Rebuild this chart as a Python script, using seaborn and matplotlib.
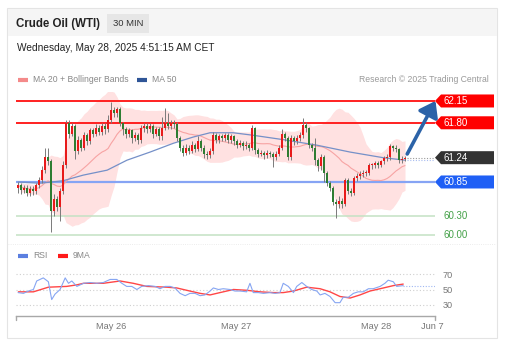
import numpy as np
import pandas as pd
import matplotlib.pyplot as plt
import matplotlib.transforms as mtransforms
from matplotlib.patches import Polygon, Rectangle, FancyArrowPatch
from matplotlib.lines import Line2D
import seaborn as sns

# ---- 30 min candles ----
first_open = 60.75
closes = [60.80, 60.72, 60.76, 60.68, 60.74, 60.70, 60.80, 60.88, 61.05, 61.25,
          61.18, 60.38, 60.58, 60.45, 60.70, 61.12, 61.80, 61.62, 61.75, 61.35,
          61.52, 61.40, 61.60, 61.50, 61.68, 61.62, 61.72, 61.65, 61.75, 61.70,
          61.85, 62.00, 61.95, 62.02, 61.80, 61.70, 61.62, 61.68, 61.55, 61.60,
          61.52, 61.72, 61.75, 61.70, 61.75, 61.62, 61.70, 61.58, 61.72, 61.80,
          61.75, 61.80, 61.78, 61.55, 61.40, 61.32, 61.40, 61.35, 61.45, 61.38,
          61.50, 61.40, 61.30, 61.28, 61.35, 61.60, 61.52, 61.58, 61.55, 61.60,
          61.52, 61.58, 61.50, 61.45, 61.48, 61.42, 61.45, 61.40, 61.72, 61.36,
          61.30, 61.32, 61.28, 61.32, 61.30, 61.25, 61.30, 61.40, 61.62, 61.55,
          61.25, 61.55, 61.50, 61.55, 61.60, 61.76, 61.72, 61.45, 61.40, 61.20,
          61.10, 61.25, 61.00, 60.83, 60.75, 60.53, 60.50, 60.55, 60.50, 60.88,
          60.70, 60.68, 60.91, 60.95, 60.98, 61.00, 61.00, 61.12, 61.12, 61.15,
          61.13, 61.18, 61.23, 61.25, 61.42, 61.40, 61.38, 61.20, 61.22, 61.24]
highs = [60.85, 60.84, 60.80, 60.80, 60.79, 60.78, 60.84, 60.93, 61.10, 61.40,
         61.40, 61.22, 60.65, 60.62, 60.75, 61.18, 61.85, 61.84, 61.80, 61.78,
         61.58, 61.56, 61.65, 61.64, 61.72, 61.72, 61.78, 61.76, 61.80, 61.80,
         61.92, 62.13, 62.05, 62.06, 62.05, 61.82, 61.74, 61.72, 61.70, 61.66,
         61.64, 61.76, 61.80, 61.79, 61.79, 61.78, 61.74, 61.73, 61.90, 62.04,
         61.95, 61.85, 61.84, 61.82, 61.58, 61.44, 61.46, 61.44, 61.50, 61.48,
         61.58, 61.54, 61.44, 61.35, 61.40, 61.66, 61.64, 61.62, 61.62, 61.64,
         61.63, 61.62, 61.60, 61.54, 61.52, 61.50, 61.50, 61.48, 61.76, 61.74,
         61.40, 61.36, 61.35, 61.36, 61.35, 61.33, 61.34, 61.45, 61.70, 61.65,
         61.58, 61.60, 61.58, 61.60, 61.66, 61.87, 61.82, 61.74, 61.48, 61.55,
         61.24, 61.30, 61.28, 61.02, 60.86, 60.78, 60.58, 60.62, 60.60, 60.92,
         60.92, 60.76, 60.95, 60.99, 61.02, 61.04, 61.04, 61.16, 61.16, 61.18,
         61.18, 61.21, 61.26, 61.30, 61.46, 61.45, 61.44, 61.40, 61.26, 61.27]
lows = [60.68, 60.66, 60.67, 60.62, 60.63, 60.64, 60.66, 60.76, 60.84, 61.00,
        61.12, 60.05, 60.30, 60.38, 60.22, 60.66, 61.08, 61.55, 61.58, 61.22,
        61.30, 61.34, 61.36, 61.45, 61.46, 61.57, 61.58, 61.60, 61.60, 61.62,
        61.65, 61.80, 61.90, 61.90, 61.75, 61.60, 61.56, 61.57, 61.48, 61.50,
        61.46, 61.48, 61.66, 61.64, 61.65, 61.56, 61.58, 61.52, 61.53, 61.68,
        61.70, 61.70, 61.72, 61.50, 61.34, 61.26, 61.28, 61.30, 61.31, 61.33,
        61.34, 61.35, 61.24, 61.22, 61.23, 61.30, 61.47, 61.48, 61.50, 61.50,
        61.47, 61.47, 61.45, 61.40, 61.41, 61.37, 61.38, 61.35, 61.36, 61.30,
        61.25, 61.26, 61.22, 61.23, 61.25, 61.09, 61.20, 61.26, 61.36, 61.50,
        61.20, 61.20, 61.45, 61.46, 61.50, 61.55, 61.66, 61.40, 61.34, 61.12,
        61.02, 61.05, 60.85, 60.78, 60.70, 60.48, 60.27, 60.44, 60.43, 60.46,
        60.65, 60.62, 60.64, 60.86, 60.90, 60.93, 60.95, 60.96, 61.06, 61.07,
        61.08, 61.09, 61.14, 61.18, 61.21, 61.35, 61.33, 61.16, 61.16, 61.18]

# MA 50 as drawn on the chart (it carries history from before the window)
ma50_bar = [0, 7.3, 15, 21.7, 29.7, 36.3, 44, 51.7, 58.3, 64, 71.7, 78.3, 88.3,
            99.7, 110.7, 121.7, 129]
ma50_val = [60.85, 60.83, 60.87, 60.96, 61.04, 61.20, 61.33, 61.47, 61.57, 61.64,
            61.64, 61.60, 61.53, 61.44, 61.33, 61.24, 61.20]

# key levels
level_prices = [62.15, 61.80, 60.85, 60.30, 60.00]
level_kinds = ['res', 'res', 'pivot', 'sup', 'sup']
last_price = 61.24
target_bar, target_price = 139.6, 62.19

# RSI panel
rsi_bar = [0, 1.8, 3.4, 5.1, 6.2, 8.4, 10.1, 11.2, 12.3, 14, 15.7, 16.8, 17.9, 19.6,
           21.8, 24, 26.2, 28.4, 30.7, 32.9, 34.6, 36.2, 37.9, 39.6, 41.2, 43.4, 45.7,
           47.3, 49, 50.7, 52.3, 54, 55.7, 57.3, 59, 60.7, 62.3, 64, 65.1, 66.8, 68.4,
           70.7, 72.3, 74, 76.2, 77.3, 78.4, 80.1, 81.8, 84, 85.7, 87.3, 88.4, 90.1,
           91.8, 92.9, 94.6, 96.2, 97.9, 99.6, 100.7, 102.3, 104, 105.7, 107.3, 108.4,
           110.1, 111.8, 113.4, 115.1, 116.8, 118.4, 120.7, 122.3, 123.4, 125.1, 126.2, 128.4]
rsi_val = [46, 45, 48, 50, 61, 65, 60, 37, 44, 50, 65, 58, 61, 54, 58, 59, 58, 59, 63, 63,
           58, 54, 54, 50, 54, 55, 54, 51, 54, 54, 52, 45, 42, 45, 45, 42, 43, 48, 52, 50,
           51, 50, 48, 48, 47, 58, 46, 46, 45, 46, 45, 46, 58, 54, 46, 54, 59, 54, 50, 48,
           43, 45, 41, 33, 33, 40, 40, 45, 47, 47, 51, 51, 54, 58, 62, 60, 54, 55]
ma9_bar = [0.1, 5.1, 10.1, 16.2, 19.6, 21.8, 28.4, 34, 38.4, 42.9, 49.6, 52.9, 57.3, 60.7,
           64, 67.3, 71.8, 76.2, 80.7, 85.1, 88.4, 91.8, 96.2, 100.7, 104, 107.3, 110.7,
           114, 117.3, 121.8, 125.1, 128.4]
ma9_val = [47, 47, 53, 54, 56, 58, 58, 61, 58, 54, 53, 52, 48, 45, 43, 46, 50, 49, 47, 46,
           46, 48, 53, 51, 47, 41, 39, 43, 48, 52, 55, 57]

date_ticks = [31, 72.7, 119.3, 138]
date_labels = ['May 26', 'May 27', 'May 28', 'Jun 7']

sns.set_theme(style='white')
plt.rcParams['font.family'] = ['Liberation Sans', 'DejaVu Sans']

W, H = 511, 354
def fx(px):
    return px / W
def fy(py):
    return 1 - py / H

fig = plt.figure(figsize=(W / 100, H / 100), dpi=100)
fig.patch.set_facecolor('white')

# card + header (kept behind the axes)
fig.add_artist(Rectangle((fx(7), fy(338)), fx(497) - fx(7), fy(8) - fy(338),
                         transform=fig.transFigure, fc='white', ec='#e4e4e4', lw=0.8,
                         zorder=-10))
fig.add_artist(Rectangle((fx(7.5), fy(36)), fx(496.5) - fx(7.5), fy(8.5) - fy(36),
                         transform=fig.transFigure, fc='#f5f5f5', ec='none', zorder=-9))
fig.add_artist(Rectangle((fx(107), fy(33)), fx(149) - fx(107), fy(14) - fy(33),
                         transform=fig.transFigure, fc='#e6e6e6', ec='none', zorder=-8))
fig.text(fx(16), fy(23.5), 'Crude Oil (WTI)', fontsize=8.3, fontweight='bold',
         color='#222222', va='center')
fig.text(fx(128), fy(23.5), '30 MIN', fontsize=6.8, color='#333333', va='center', ha='center')
fig.text(fx(17), fy(48), 'Wednesday, May 28, 2025 4:51:15 AM CET', fontsize=7.3,
         color='#222222', va='center')

# legends
def legend_item(x, y, color, label):
    fig.add_artist(Line2D([fx(x), fx(x + 10)], [fy(y), fy(y)], transform=fig.transFigure,
                          color=color, lw=3, solid_capstyle='butt'))
    fig.text(fx(x + 15), fy(y), label, fontsize=6.2, color='#888888', va='center')

legend_item(18, 79.5, '#f48a8a', 'MA 20 + Bollinger Bands')
legend_item(137, 79.5, '#2f5597', 'MA 50')
fig.text(fx(489), fy(79.5), 'Research \u00a9 2025 Trading Central', fontsize=6.2,
         color='#999999', va='center', ha='right')
legend_item(18, 256, '#5b7fe0', 'RSI')
legend_item(58, 256, '#ff1a1a', '9MA')

# panel separator
fig.add_artist(Line2D([fx(8), fx(496)], [fy(244), fy(244)], transform=fig.transFigure,
                      color='#e6e6e6', lw=0.6, ls=':', zorder=-7))

# ---- price panel ----
ax = fig.add_axes([fx(16), fy(240), fx(435) - fx(16), fy(92) - fy(240)])
ax.set_facecolor('none')
n = len(closes)
idx = np.arange(n)
df = pd.DataFrame({'bar': idx, 'close': closes, 'high': highs, 'low': lows})
df['open'] = [first_open] + closes[:-1]
roll = df['close'].rolling(20, min_periods=1)
df['ma20'] = roll.mean()
sd = roll.std(ddof=0).fillna(0)
df['bb_up'] = df['ma20'] + 2 * sd
df['bb_lo'] = df['ma20'] - 2 * sd

ax.fill_between(df['bar'], df['bb_lo'], df['bb_up'], color='#ffe1e1', lw=0, zorder=1)
sns.lineplot(data=df, x='bar', y='ma20', ax=ax, color='#f7a3a3', lw=0.8, zorder=2)
sns.lineplot(x=ma50_bar, y=ma50_val, ax=ax, color='#7590c8', lw=0.9, zorder=2)

for price, kind in zip(level_prices, level_kinds):
    col = {'res': '#ff2020', 'pivot': '#86a4f4', 'sup': '#c3e2c3'}[kind]
    lw = {'res': 1.4, 'pivot': 1.6, 'sup': 1.1}[kind]
    ax.axhline(price, color=col, lw=lw, zorder=1.5)

up = df['close'] >= df['open']
colors = np.where(up, '#e81a1a', '#2e7d32')
ax.vlines(df['bar'], df['low'], df['high'], color='#7a7a7a', lw=0.7, zorder=3)
body = (df['close'] - df['open']).abs().clip(lower=0.012)
ax.bar(df['bar'], body, bottom=np.minimum(df['open'], df['close']), width=0.78,
       color=colors, lw=0, zorder=4)

ax.hlines(last_price, n - 0.5, 139, color='#9a9a9a', lw=0.8, ls=(0, (1, 1.5)), zorder=2)
ax.hlines(last_price - 0.035, n - 0.5, 139, color='#a9bdf0', lw=0.8, ls=(0, (1, 1.5)), zorder=2)

arrow = FancyArrowPatch((n - 0.7, last_price + 0.02), (target_bar, target_price),
                        arrowstyle='-|>,head_length=0.7,head_width=0.5', mutation_scale=13,
                        lw=2.6, color='#2c63a8', zorder=5, clip_on=False)
ax.add_patch(arrow)

ax.set_xlim(-0.7, 139)
ax.set_ylim(59.919, 62.294)
ax.set_xlabel('')
ax.set_ylabel('')
ax.set_xticks([])
ax.set_yticks([])
for s in ax.spines.values():
    s.set_visible(False)

# price tags on the right
trans = mtransforms.blended_transform_factory(fig.transFigure, ax.transData)
hh = 6.5 / 62.3
tag_col = {62.15: '#ff0000', 61.80: '#ff0000', 60.85: '#1f5ff5'}
for price, kind in zip(level_prices, level_kinds):
    if kind == 'sup':
        fig.text(fx(443), price, f'{price:.2f}', transform=trans, fontsize=7,
                 color='#43a047', va='center')
        continue
    poly = Polygon([(fx(435), price), (fx(441), price + hh), (fx(494), price + hh),
                    (fx(494), price - hh), (fx(441), price - hh)], closed=True,
                   transform=trans, fc=tag_col[price], ec='none')
    fig.add_artist(poly)
    fig.text(fx(443), price, f'{price:.2f}', transform=trans, fontsize=7,
             color='white', va='center')
poly = Polygon([(fx(435), last_price), (fx(441), last_price + hh), (fx(494), last_price + hh),
                (fx(494), last_price - hh), (fx(441), last_price - hh)], closed=True,
               transform=trans, fc='#333333', ec='none')
fig.add_artist(poly)
fig.text(fx(443), last_price, f'{last_price:.2f}', transform=trans, fontsize=7,
         color='white', va='center')

# ---- RSI panel ----
ax2 = fig.add_axes([fx(16), fy(316), fx(435) - fx(16), fy(262) - fy(316)])
ax2.set_facecolor('none')
ax2.hlines([30, 50, 70], -0.7, 139, color='#cfcfcf', lw=0.8, ls=(0, (1, 2)), zorder=1)
sns.lineplot(x=rsi_bar, y=rsi_val, ax=ax2, color='#86a5f2', lw=0.8, zorder=3)
sns.lineplot(x=ma9_bar, y=ma9_val, ax=ax2, color='#ff4646', lw=1.0, zorder=2)
ax2.hlines(rsi_val[-1], rsi_bar[-1], 139, color='#9fb7f2', lw=0.8, ls=(0, (1, 1.5)))
ax2.set_xlim(-0.7, 139)
ax2.set_ylim(15.8, 85.5)
ax2.yaxis.tick_right()
ax2.set_yticks([30, 50, 70])
ax2.tick_params(axis='y', length=0, pad=5.5, labelsize=6.6, labelcolor='#777777')
ax2.set_xticks(date_ticks)
ax2.set_xticklabels(date_labels)
ax2.tick_params(axis='x', length=0, pad=4.5, labelsize=6.7, labelcolor='#777777')
for name, s in ax2.spines.items():
    s.set_visible(name == 'bottom')
ax2.spines['bottom'].set_color('#a8a8a8')
ax2.spines['bottom'].set_linewidth(1.0)
for xe in (0, 1):
    ax2.plot([xe, xe], [0, -0.08], transform=ax2.transAxes, color='#a8a8a8', lw=1.0,
             clip_on=False)
ax2.set_xlabel('')
ax2.set_ylabel('')

fig.savefig('out.png', dpi=100)
